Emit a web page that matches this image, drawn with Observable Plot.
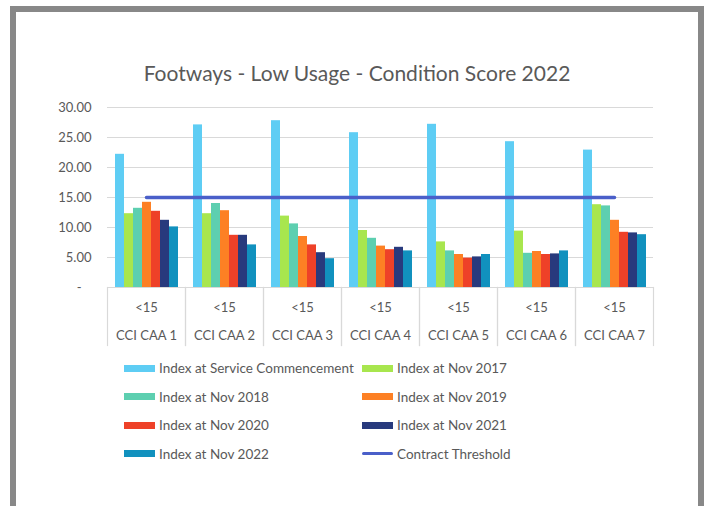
<!DOCTYPE html>
<html>
<head>
<meta charset="utf-8">
<script src="https://cdn.jsdelivr.net/npm/d3@7"></script>
<script src="https://cdn.jsdelivr.net/npm/@observablehq/plot@0.6"></script>
<style>
  html, body { margin: 0; padding: 0; background: #fff; }
  #wrap { position: relative; width: 710px; height: 506px; overflow: hidden; font-family: Lato, "Open Sans", sans-serif; color: #595959; }
  #frame { position: absolute; left: 10px; top: 6px; width: 682px; height: 520px; border: 6px solid #888888; border-bottom: none; }
  #title { position: absolute; left: 10px; width: 694px; top: 61px; text-align: center; font-size: 21px; line-height: 24px; color: #595959; }
  .plot { position: absolute; left: 0; top: 0; }
  #legend { position: absolute; left: 124px; top: 358px; display: grid; grid-template-columns: 238px 240px; grid-auto-rows: 28.5px; font-size: 13.5px; color: #595959; }
  .item { display: flex; align-items: center; height: 20px; white-space: nowrap; }
  .sw { width: 31px; height: 7px; margin-right: 4px; flex: none; }
  .sw.line { height: 3.5px; border-radius: 2px; }
</style>
</head>
<body>
<div id="wrap">
  <div id="frame"></div>
  <div id="title"></div>
  <div id="chart"></div>
  <div id="legend"></div>
</div>
<script>
const title = "Footways - Low Usage - Condition Score 2022";
const categories = ["CCI CAA 1", "CCI CAA 2", "CCI CAA 3", "CCI CAA 4", "CCI CAA 5", "CCI CAA 6", "CCI CAA 7"];
const subLabels = ["<15", "<15", "<15", "<15", "<15", "<15", "<15"];
const seriesNames = ["Index at Service Commencement", "Index at Nov 2017", "Index at Nov 2018", "Index at Nov 2019", "Index at Nov 2020", "Index at Nov 2021", "Index at Nov 2022"];
const seriesColors = ["#5ECDF4", "#A8E64E", "#5DCFB0", "#FD8024", "#EE4128", "#283A7D", "#1191BE"];
const commencement = [22.2, 27.1, 27.8, 25.8, 27.2, 24.3, 22.9];
const nov2017 = [12.3, 12.3, 11.9, 9.5, 7.6, 9.4, 13.8];
const nov2018 = [13.2, 14.0, 10.6, 8.2, 6.1, 5.7, 13.6];
const nov2019 = [14.2, 12.8, 8.5, 6.9, 5.5, 6.0, 11.2];
const nov2020 = [12.7, 8.7, 7.1, 6.3, 4.9, 5.5, 9.2];
const nov2021 = [11.2, 8.7, 5.8, 6.7, 5.1, 5.6, 9.1];
const nov2022 = [10.1, 7.1, 4.8, 6.1, 5.5, 6.1, 8.8];
const thresholdName = "Contract Threshold";
const thresholdColor = "#4A5FC9";
const threshold = [15, 15, 15, 15, 15, 15, 15];
const yTicks = [0, 5, 10, 15, 20, 25, 30];

const seriesValues = [commencement, nov2017, nov2018, nov2019, nov2020, nov2021, nov2022];
const bars = [];
categories.forEach((c, i) => seriesNames.forEach((s, j) => bars.push({category: c, series: s, value: seriesValues[j][i]})));
const thresholdData = categories.map((c, i) => ({category: c, value: threshold[i]}));

document.getElementById("title").textContent = title;

const W = 710, H = 360, mt = 107, mb = 73, ml = 104, mr = 55;
const font = "Lato, 'Open Sans', sans-serif";
const grey = "#595959", lineGrey = "#D9D9D9";

const main = Plot.plot({
  width: W, height: H,
  marginTop: mt, marginBottom: mb, marginLeft: ml, marginRight: mr,
  style: {fontFamily: font, fontSize: "13px", color: grey, background: "transparent", overflow: "visible"},
  fx: {domain: categories, padding: 0, axis: null},
  x: {domain: seriesNames, paddingInner: 0, paddingOuter: 0.77, axis: null},
  y: {domain: [0, 30], axis: null},
  color: {domain: seriesNames, range: seriesColors},
  marks: [
    Plot.gridY(yTicks, {stroke: lineGrey, strokeOpacity: 1, strokeWidth: 1.2}),
    Plot.barY(bars, {fx: "category", x: "series", y: "value", fill: "series", inset: 0}),
    Plot.ruleY([0], {stroke: lineGrey, strokeWidth: 1.2}),
    Plot.frame({anchor: "left", insetTop: H - mt - mb, insetBottom: -58, stroke: lineGrey, strokeWidth: 1.2}),
    Plot.frame({anchor: "right", insetTop: H - mt - mb, insetBottom: -58, stroke: lineGrey, strokeWidth: 1.2}),
    Plot.axisY(yTicks, {tickSize: 0, tickPadding: 16, fill: grey, fontSize: 13, label: null,
      tickFormat: d => d === 0 ? "-\u00a0\u00a0\u00a0" : d.toFixed(2)}),
    Plot.axisFx({anchor: "bottom", tickSize: 0, tickPadding: 15, fill: grey, fontSize: 13, label: null,
      tickFormat: d => subLabels[categories.indexOf(d)]}),
    Plot.axisFx({anchor: "bottom", tickSize: 0, tickPadding: 43, fill: grey, fontSize: 13, label: null,
      tickFormat: d => d})
  ]
});
main.classList.add("plot");

const overlay = Plot.plot({
  width: W, height: H,
  marginTop: mt, marginBottom: mb, marginLeft: ml, marginRight: mr,
  style: {background: "transparent", overflow: "visible"},
  x: {type: "point", domain: categories, padding: 0.5, axis: null},
  y: {domain: [0, 30], axis: null},
  marks: [
    Plot.lineY(thresholdData, {x: "category", y: "value", stroke: thresholdColor, strokeWidth: 3.5, strokeLinecap: "round"})
  ]
});
overlay.classList.add("plot");

const chart = document.getElementById("chart");
chart.appendChild(main);
chart.appendChild(overlay);

const legend = document.getElementById("legend");
const items = seriesNames.map((s, i) => ({name: s, color: seriesColors[i], line: false}));
items.push({name: thresholdName, color: thresholdColor, line: true});
for (const it of items) {
  const d = document.createElement("div");
  d.className = "item";
  const sw = document.createElement("span");
  sw.className = "sw" + (it.line ? " line" : "");
  sw.style.background = it.color;
  const t = document.createElement("span");
  t.textContent = it.name;
  d.appendChild(sw); d.appendChild(t);
  legend.appendChild(d);
}
</script>
</body>
</html>
